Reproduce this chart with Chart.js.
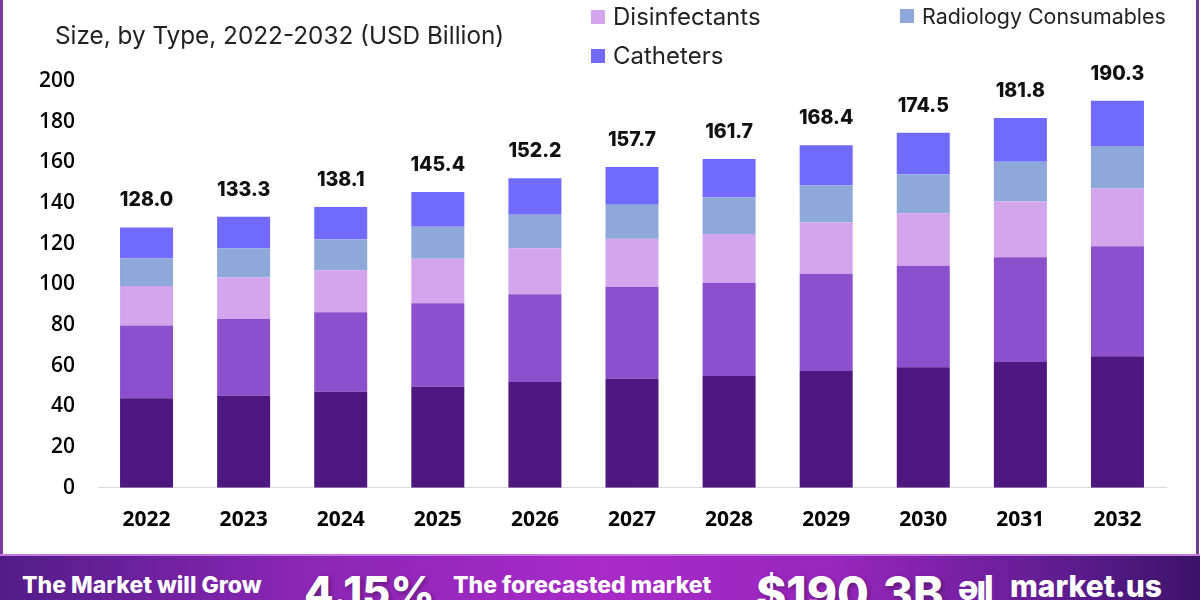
<!DOCTYPE html>
<html>
<head>
<meta charset="utf-8">
<script src="https://cdn.jsdelivr.net/npm/chart.js@4"></script>
<style>
  html, body { margin: 0; padding: 0; }
  body { width: 1200px; height: 600px; overflow: hidden; background: #fff; position: relative; font-family: Inter, "Noto Sans", sans-serif; }
  #cadre { position: absolute; left: 0; top: 0; width: 1200px; height: 554px; }
  #cadre:before { content: ''; position: absolute; left: 0; top: 0; width: 3px; height: 554px; background: #7a3aa4; }
  #cadre:after { content: ''; position: absolute; left: 1196px; top: 0; width: 3px; height: 554px; background: #6c3a8e; }
  #graph { position: absolute; left: 0; top: 0; }
  .sous-titre { position: absolute; left: 55px; top: 20px; font-size: 24.3px; color: #222; white-space: nowrap; }
  .leg { position: absolute; color: #222; white-space: nowrap; display: flex; align-items: center; }
  .leg i { display: inline-block; width: 14px; height: 14px; margin-right: 8px; }
  #bandeau { position: absolute; left: 0; top: 554px; width: 1200px; height: 46px; overflow: hidden;
    background: linear-gradient(90deg, #521c88 0%, #8a26b4 25%, #a82ac8 50%, #9826bc 70%, #5a1b8c 90%, #3c1368 100%);
    border-top: 2px solid #c27ae0; box-sizing: border-box; color: #fff; font-weight: 800; }
  #bandeau span { position: absolute; white-space: nowrap; }
</style>
</head>
<body>
<div id="cadre">
  <canvas id="graph" width="1195" height="554"></canvas>
</div>
<div class="sous-titre">Size, by Type, 2022-2032 (USD Billion)</div>
<div id="legende"></div>
<div id="bandeau">
  <span style="left:22px; top:15px; font-size:23px;">The Market will Grow</span>
  <span style="left:304px; top:9px; font-size:43px; text-shadow: 2px 2px 4px rgba(0,0,0,0.35);">4.15%</span>
  <span style="left:453px; top:15px; font-size:23px;">The forecasted market</span>
  <span style="left:756px; top:9px; font-size:46px; text-shadow: 2px 2px 4px rgba(0,0,0,0.35);">$190.3B</span>
  <span style="left:958px; top:11px; font-size:34px; letter-spacing:-2px;">&#601;&#305;l</span>
  <span style="left:1010px; top:12px; font-size:30px;">market.us</span>
</div>

<script>
const annees = ['2022', '2023', '2024', '2025', '2026', '2027', '2028', '2029', '2030', '2031', '2032'];

// valeurs (USD Bn), du bas vers le haut de chaque barre
const serieBas = [44.0, 45.2, 47.2, 49.7, 52.0, 53.6, 55.0, 57.4, 59.3, 61.8, 64.7];
const serieDeux = [35.8, 37.8, 39.1, 41.0, 43.2, 45.1, 45.8, 47.8, 49.9, 51.6, 54.1];
const desinfectants = [19.4, 20.4, 20.6, 21.9, 22.6, 23.7, 24.0, 25.2, 25.8, 27.3, 28.4];
const radiologie = [13.7, 14.4, 15.3, 15.7, 16.5, 16.8, 18.0, 18.3, 19.1, 19.6, 20.9];
const catheters = [15.1, 15.5, 15.9, 17.1, 17.9, 18.5, 18.9, 19.7, 20.4, 21.5, 22.2];

// totaux affiches au-dessus des barres
const totaux = [128.0, 133.3, 138.1, 145.4, 152.2, 157.7, 161.7, 168.4, 174.5, 181.8, 190.3];

const ticksY = [0, 20, 40, 60, 80, 100, 120, 140, 160, 180, 200];

const series = [
    { label: 'Type 1', data: serieBas, color: '#4f1780', legende: false },
    { label: 'Type 2', data: serieDeux, color: '#8c50cc', legende: false },
    { label: 'Disinfectants', data: desinfectants, color: '#d3a5ec', legende: true, x: 591, y: 2, taille: 24 },
    { label: 'Radiology Consumables', data: radiologie, color: '#8ea8da', legende: true, x: 900, y: 3, taille: 21.4 },
    { label: 'Catheters', data: catheters, color: '#716afd', legende: true, x: 591, y: 41, taille: 24 }
];

// legende en HTML (la premiere ligne est hors cadre sur l'original)
const legende = document.getElementById('legende');
series.forEach(s => {
    if (!s.legende) return;
    const el = document.createElement('div');
    el.className = 'leg';
    el.style.left = s.x + 'px';
    el.style.top = s.y + 'px';
    el.style.fontSize = s.taille + 'px';
    el.innerHTML = `<i style="background:${s.color}"></i>${s.label}`;
    legende.appendChild(el);
});

// affiche le total au-dessus de chaque pile
const etiquettesTotaux = {
    id: 'etiquettesTotaux',
    afterDatasetsDraw(chart) {
        const ctx = chart.ctx;
        const meta = chart.getDatasetMeta(chart.data.datasets.length - 1);
        ctx.save();
        ctx.font = '800 19.5px Inter';
        ctx.fillStyle = '#111';
        ctx.textAlign = 'center';
        ctx.textBaseline = 'alphabetic';
        meta.data.forEach((barre, i) => {
            ctx.fillText(totaux[i].toFixed(1), barre.x, barre.y - 21);
        });
        ctx.restore();
    }
};

const ctx = document.getElementById('graph').getContext('2d');
new Chart(ctx, {
    type: 'bar',
    data: {
        labels: annees,
        datasets: series.map(s => ({
            label: s.label,
            data: s.data,
            backgroundColor: s.color,
            borderWidth: 0,
            barPercentage: 0.546,
            categoryPercentage: 1
        }))
    },
    options: {
        responsive: false,
        animation: false,
        layout: { padding: { left: 0, right: 29, top: 81, bottom: 1 } },
        plugins: {
            legend: { display: false },
            tooltip: { enabled: false }
        },
        scales: {
            x: {
                stacked: true,
                grid: { display: false, drawTicks: false },
                border: { display: true, color: '#d9d9d9', width: 1 },
                ticks: { color: '#000', padding: 20, font: { family: 'Open Sans', size: 21, weight: '700' } }
            },
            y: {
                stacked: true,
                min: 0,
                max: 200,
                afterBuildTicks: axe => { axe.ticks = ticksY.map(v => ({ value: v })); },
                afterFit: axe => { axe.width = 98; },
                grid: { display: false, drawTicks: false },
                border: { display: false },
                ticks: { color: '#000', padding: 23, font: { family: 'Open Sans', size: 21, weight: '600' } }
            }
        }
    },
    plugins: [etiquettesTotaux]
});
</script>
</body>
</html>
